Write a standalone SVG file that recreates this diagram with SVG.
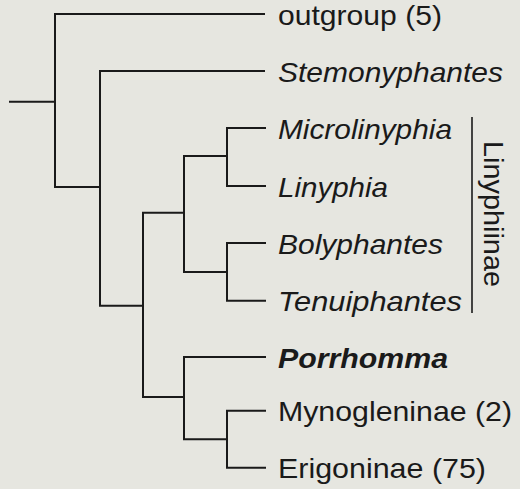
<svg xmlns="http://www.w3.org/2000/svg" width="520" height="489" viewBox="0 0 520 489">
<style>
.bg{fill:#e6e6e0}
.br{fill:none;stroke:#1a1a1a;stroke-width:2;stroke-linecap:square;stroke-linejoin:miter}
.t{font-family:"Liberation Sans",Arial,sans-serif;font-size:28px;fill:#1a1a1a}
.i{font-style:italic}
.b{font-weight:bold}
</style>
<rect class="bg" x="0" y="0" width="520" height="489"/>
<g id="connectors">
<path class="br" d="M10,101.7H55M55,14V187M55,14H264M55,187H100"/>
<path class="br" d="M100,71V305.7M100,71H264M100,305.7H143"/>
<path class="br" d="M143,212.7V397M143,212.7H184M143,397H184"/>
<path class="br" d="M184,156V272M184,156H227M184,272H227"/>
<path class="br" d="M227,128V186M227,128H265M227,186H265"/>
<path class="br" d="M227,243V300.7M227,243H265M227,300.7H265"/>
<path class="br" d="M184,357V439.3M184,357H265M184,439.3H227"/>
<path class="br" d="M227,410.7V467.7M227,410.7H265M227,467.7H265"/>
</g>
<g id="leaf-outgroup"><text class="t" x="278" y="24.5" textLength="164" lengthAdjust="spacingAndGlyphs">outgroup (5)</text></g>
<g id="leaf-stemonyphantes"><text class="t i" x="278" y="81.5" textLength="225" lengthAdjust="spacingAndGlyphs">Stemonyphantes</text></g>
<g id="leaf-microlinyphia"><text class="t i" x="278" y="138.5" textLength="174" lengthAdjust="spacingAndGlyphs">Microlinyphia</text></g>
<g id="leaf-linyphia"><text class="t i" x="278" y="196.5" textLength="110" lengthAdjust="spacingAndGlyphs">Linyphia</text></g>
<g id="leaf-bolyphantes"><text class="t i" x="278" y="253.5" textLength="165" lengthAdjust="spacingAndGlyphs">Bolyphantes</text></g>
<g id="leaf-tenuiphantes"><text class="t i" x="278" y="311.2" textLength="184" lengthAdjust="spacingAndGlyphs">Tenuiphantes</text></g>
<g id="leaf-porrhomma"><text class="t i b" x="278" y="367.5" textLength="170" lengthAdjust="spacingAndGlyphs">Porrhomma</text></g>
<g id="leaf-mynogleninae"><text class="t" x="278" y="421.2" textLength="234" lengthAdjust="spacingAndGlyphs">Mynogleninae (2)</text></g>
<g id="leaf-erigoninae"><text class="t" x="278" y="478.2" textLength="208" lengthAdjust="spacingAndGlyphs">Erigoninae (75)</text></g>
<g id="group-linyphiinae">
<line x1="472" y1="117" x2="472" y2="313" stroke="#1a1a1a" stroke-width="1.6"/>
<text class="t" transform="translate(483.5,141) rotate(90)" x="0" y="0" textLength="146" lengthAdjust="spacingAndGlyphs">Linyphiinae</text>
</g>
</svg>
